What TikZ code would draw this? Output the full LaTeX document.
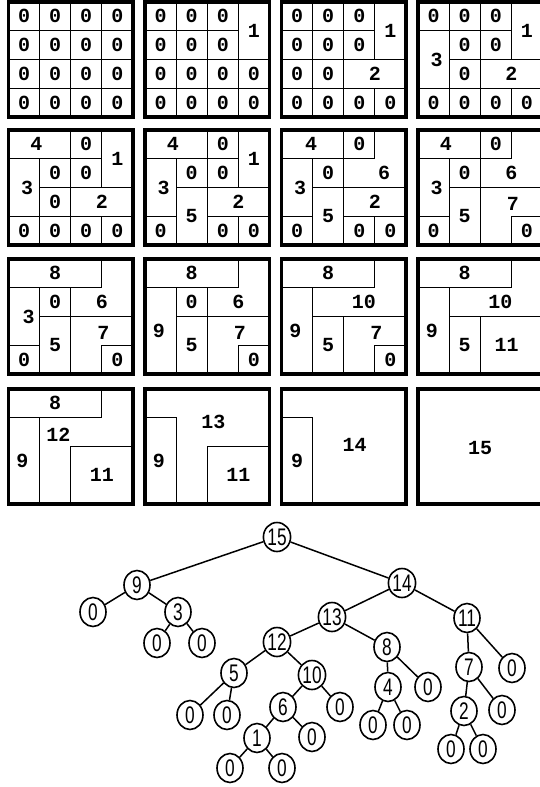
\documentclass[tikz,border=0pt]{standalone}
\usepackage{fontspec}
\usetikzlibrary{shapes.geometric}
\newfontfamily\gridfont{Liberation Mono}
\newfontfamily\treefont{Liberation Sans}[FakeStretch=0.72]
\tikzset{
  panelpos/.style 2 args={shift={(#1,#2)}, x=31.1pt, y=-28.8pt},
  frame/.style={line width=3.6pt},
  cellline/.style={line width=1.2pt},
  lbl/.style={font=\gridfont\bfseries\fontsize{20}{20}\selectfont, inner sep=0pt},
  knot/.style={ellipse, draw, line width=1.6pt, minimum width=26pt, minimum height=29pt,
    inner sep=0pt, font=\treefont\fontsize{24}{24}\selectfont},
  edge/.style={line width=1.5pt}
}
\begin{document}
\begin{tikzpicture}[x=1pt,y=-1pt]
    \useasboundingbox (0,0) rectangle (540,787);

    % panel 1
    \begin{scope}[panelpos={8.5}{2}]
        \foreach \c in {0,...,3} \foreach \r in {0,...,3} \draw[cellline] (\c,\r) rectangle node[lbl] (a\c\r) {0} ++(1,1);
        \draw[frame] (0,0) rectangle (4,4);
    \end{scope}

    % panel 2
    \begin{scope}[panelpos={145}{2}]
        \foreach \c/\r in {0/0,1/0,2/0,0/1,1/1,2/1,0/2,1/2,2/2,3/2,0/3,1/3,2/3,3/3} \draw[cellline] (\c,\r) rectangle node[lbl] (b\c\r) {0} ++(1,1);
        \draw[cellline] (3,0) rectangle node[lbl] (b1) {1} (4,2);
        \draw[frame] (0,0) rectangle (4,4);
    \end{scope}

    % panel 3
    \begin{scope}[panelpos={281.5}{2}]
        \foreach \c/\r in {0/0,1/0,2/0,0/1,1/1,2/1,0/2,1/2,0/3,1/3,2/3,3/3} \draw[cellline] (\c,\r) rectangle node[lbl] (c\c\r) {0} ++(1,1);
        \draw[cellline] (3,0) rectangle node[lbl] (c1) {1} (4,2);
        \draw[cellline] (2,2) rectangle node[lbl] (c2) {2} (4,3);
        \draw[frame] (0,0) rectangle (4,4);
    \end{scope}

    % panel 4
    \begin{scope}[panelpos={418}{2}]
        \foreach \c/\r in {0/0,1/0,2/0,1/1,2/1,1/2,0/3,1/3,2/3,3/3} \draw[cellline] (\c,\r) rectangle node[lbl] (d\c\r) {0} ++(1,1);
        \draw[cellline] (3,0) rectangle node[lbl] (d1) {1} (4,2);
        \draw[cellline] (2,2) rectangle node[lbl] (d2) {2} (4,3);
        \draw[cellline] (0,1) rectangle (1,3);
        \node[lbl] (d3) at (0.6,2) {3};
        \draw[frame] (0,0) rectangle (4,4);
    \end{scope}

    % panel 5
    \begin{scope}[panelpos={8.5}{130}]
        \foreach \c/\r in {2/0,1/1,2/1,1/2,0/3,1/3,2/3,3/3} \draw[cellline] (\c,\r) rectangle node[lbl] (e\c\r) {0} ++(1,1);
        \draw[cellline] (0,0) rectangle (2,1);
        \node[lbl] (e4) at (0.9,0.5) {4};
        \draw[cellline] (3,0) rectangle node[lbl] (e1) {1} (4,2);
        \draw[cellline] (0,1) rectangle (1,3);
        \node[lbl] (e3) at (0.6,2) {3};
        \draw[cellline] (2,2) rectangle node[lbl] (e2) {2} (4,3);
        \draw[frame] (0,0) rectangle (4,4);
    \end{scope}

    % panel 6
    \begin{scope}[panelpos={145}{130}]
        \foreach \c/\r in {2/0,1/1,2/1,0/3,2/3,3/3} \draw[cellline] (\c,\r) rectangle node[lbl] (f\c\r) {0} ++(1,1);
        \draw[cellline] (0,0) rectangle (2,1);
        \node[lbl] (f4) at (0.9,0.5) {4};
        \draw[cellline] (3,0) rectangle node[lbl] (f1) {1} (4,2);
        \draw[cellline] (0,1) rectangle (1,3);
        \node[lbl] (f3) at (0.6,2) {3};
        \draw[cellline] (1,2) rectangle node[lbl] (f5) {5} (2,4);
        \draw[cellline] (2,2) rectangle node[lbl] (f2) {2} (4,3);
        \draw[frame] (0,0) rectangle (4,4);
    \end{scope}

    % panel 7
    \begin{scope}[panelpos={281.5}{130}]
        \foreach \c/\r in {2/0,1/1,0/3,2/3,3/3} \draw[cellline] (\c,\r) rectangle node[lbl] (g\c\r) {0} ++(1,1);
        \draw[cellline] (0,0) rectangle (2,1);
        \node[lbl] (g4) at (0.95,0.5) {4};
        \draw[cellline] (3,0) -- (4,0) -- (4,2) -- (2,2) -- (2,1) -- (3,1) -- cycle;
        \node[lbl] (g6) at (3.3,1.5) {6};
        \draw[cellline] (0,1) rectangle (1,3);
        \node[lbl] (g3) at (0.6,2) {3};
        \draw[cellline] (1,2) rectangle node[lbl] (g5) {5} (2,4);
        \draw[cellline] (2,2) rectangle node[lbl] (g2) {2} (4,3);
        \draw[frame] (0,0) rectangle (4,4);
    \end{scope}

    % panel 8
    \begin{scope}[panelpos={418}{130}]
        \foreach \c/\r in {2/0,1/1,0/3,3/3} \draw[cellline] (\c,\r) rectangle node[lbl] (h\c\r) {0} ++(1,1);
        \draw[cellline] (0,0) rectangle (2,1);
        \node[lbl] (h4) at (0.9,0.5) {4};
        \draw[cellline] (3,0) -- (4,0) -- (4,2) -- (2,2) -- (2,1) -- (3,1) -- cycle;
        \node[lbl] (h6) at (3,1.5) {6};
        \draw[cellline] (0,1) rectangle (1,3);
        \node[lbl] (h3) at (0.6,2) {3};
        \draw[cellline] (1,2) rectangle node[lbl] (h5) {5} (2,4);
        \draw[cellline] (2,2) -- (4,2) -- (4,3) -- (3,3) -- (3,4) -- (2,4) -- cycle;
        \node[lbl] (h7) at (3.05,2.55) {7};
        \draw[frame] (0,0) rectangle (4,4);
    \end{scope}

    % panel 9
    \begin{scope}[panelpos={8.5}{259}]
        \foreach \c/\r in {1/1,0/3,3/3} \draw[cellline] (\c,\r) rectangle node[lbl] (i\c\r) {0} ++(1,1);
        \draw[cellline] (0,0) rectangle node[lbl] (i8) {8} (3,1);
        \draw[cellline] (3,0) -- (4,0) -- (4,2) -- (2,2) -- (2,1) -- (3,1) -- cycle;
        \node[lbl] (i6) at (3,1.5) {6};
        \draw[cellline] (0,1) rectangle (1,3);
        \node[lbl] (i3) at (0.65,2) {3};
        \draw[cellline] (1,2) rectangle node[lbl] (i5) {5} (2,4);
        \draw[cellline] (2,2) -- (4,2) -- (4,3) -- (3,3) -- (3,4) -- (2,4) -- cycle;
        \node[lbl] (i7) at (3.05,2.55) {7};
        \draw[frame] (0,0) rectangle (4,4);
    \end{scope}

    % panel 10
    \begin{scope}[panelpos={145}{259}]
        \foreach \c/\r in {1/1,3/3} \draw[cellline] (\c,\r) rectangle node[lbl] (j\c\r) {0} ++(1,1);
        \draw[cellline] (0,0) rectangle node[lbl] (j8) {8} (3,1);
        \draw[cellline] (3,0) -- (4,0) -- (4,2) -- (2,2) -- (2,1) -- (3,1) -- cycle;
        \node[lbl] (j6) at (3,1.5) {6};
        \draw[cellline] (0,1) rectangle (1,4);
        \node[lbl] (j9) at (0.45,2.5) {9};
        \draw[cellline] (1,2) rectangle node[lbl] (j5) {5} (2,4);
        \draw[cellline] (2,2) -- (4,2) -- (4,3) -- (3,3) -- (3,4) -- (2,4) -- cycle;
        \node[lbl] (j7) at (3.05,2.55) {7};
        \draw[frame] (0,0) rectangle (4,4);
    \end{scope}

    % panel 11
    \begin{scope}[panelpos={281.5}{259}]
        \draw[cellline] (3,3) rectangle node[lbl] (k33) {0} (4,4);
        \draw[cellline] (0,0) rectangle node[lbl] (k8) {8} (3,1);
        \draw[cellline] (1,1) -- (3,1) -- (3,0) -- (4,0) -- (4,2) -- (1,2) -- cycle;
        \node[lbl] (k10) at (2.65,1.5) {10};
        \draw[cellline] (0,1) rectangle (1,4);
        \node[lbl] (k9) at (0.45,2.5) {9};
        \draw[cellline] (1,2) rectangle node[lbl] (k5) {5} (2,4);
        \draw[cellline] (2,2) -- (4,2) -- (4,3) -- (3,3) -- (3,4) -- (2,4) -- cycle;
        \node[lbl] (k7) at (3.05,2.55) {7};
        \draw[frame] (0,0) rectangle (4,4);
    \end{scope}

    % panel 12
    \begin{scope}[panelpos={418}{259}]
        \draw[cellline] (0,0) rectangle node[lbl] (l8) {8} (3,1);
        \draw[cellline] (1,1) -- (3,1) -- (3,0) -- (4,0) -- (4,2) -- (1,2) -- cycle;
        \node[lbl] (l10) at (2.65,1.5) {10};
        \draw[cellline] (0,1) rectangle (1,4);
        \node[lbl] (l9) at (0.45,2.5) {9};
        \draw[cellline] (1,2) rectangle node[lbl] (l5) {5} (2,4);
        \draw[cellline] (2,2) rectangle (4,4);
        \node[lbl] (l11) at (2.85,3) {11};
        \draw[frame] (0,0) rectangle (4,4);
    \end{scope}

    % panel 13
    \begin{scope}[panelpos={8.5}{389}]
        \draw[cellline] (0,0) rectangle node[lbl] (m8) {8} (3,1);
        \draw[cellline] (1,1) -- (3,1) -- (3,0) -- (4,0) -- (4,2) -- (2,2) -- (2,4) -- (1,4) -- cycle;
        \node[lbl] (m12) at (1.6,1.6) {12};
        \draw[cellline] (0,1) rectangle (1,4);
        \node[lbl] (m9) at (0.45,2.5) {9};
        \draw[cellline] (2,2) rectangle node[lbl] (m11) {11} (4,4);
        \draw[frame] (0,0) rectangle (4,4);
    \end{scope}

    % panel 14
    \begin{scope}[panelpos={145}{389}]
        \draw[cellline] (0,0) -- (4,0) -- (4,2) -- (2,2) -- (2,4) -- (1,4) -- (1,1) -- (0,1) -- cycle;
        \node[lbl] (n13) at (2.2,1.15) {13};
        \draw[cellline] (0,1) rectangle (1,4);
        \node[lbl] (n9) at (0.45,2.5) {9};
        \draw[cellline] (2,2) rectangle node[lbl] (n11) {11} (4,4);
        \draw[frame] (0,0) rectangle (4,4);
    \end{scope}

    % panel 15
    \begin{scope}[panelpos={281.5}{389}]
        \draw[cellline] (0,1) rectangle (1,4);
        \node[lbl] (o9) at (0.5,2.5) {9};
        \node[lbl] (o14) at (2.35,1.95) {14};
        \draw[frame] (0,0) rectangle (4,4);
    \end{scope}

    % panel 16
    \begin{scope}[panelpos={418}{389}]
        \node[lbl] (p15) at (2,2.05) {15};
        \draw[frame] (0,0) rectangle (4,4);
    \end{scope}

    % tree
    \node[knot] (t15) at (277,537) {15};
    \node[knot] (t9) at (137,585) {9};
    \node[knot] (t9a) at (93,612) {0};
    \node[knot] (t3) at (178,612) {3};
    \node[knot] (t3a) at (157,643) {0};
    \node[knot] (t3b) at (202,643) {0};
    \node[knot] (t14) at (402,583) {14};
    \node[knot] (t13) at (332,617) {13};
    \node[knot] (t11) at (467,618) {11};
    \node[knot] (t12) at (277,642) {12};
    \node[knot] (t8) at (387,647) {8};
    \node[knot] (t5) at (234,673) {5};
    \node[knot] (t10) at (312,675) {10};
    \node[knot] (t5a) at (190,715) {0};
    \node[knot] (t5b) at (227,715) {0};
    \node[knot] (t6) at (283,707) {6};
    \node[knot] (t10b) at (340,707) {0};
    \node[knot] (t1) at (257,738) {1};
    \node[knot] (t6b) at (312,737) {0};
    \node[knot] (t1a) at (230,768) {0};
    \node[knot] (t1b) at (282,768) {0};
    \node[knot] (t4) at (388,687) {4};
    \node[knot] (t8b) at (428,687) {0};
    \node[knot] (t4a) at (373,725) {0};
    \node[knot] (t4b) at (407,725) {0};
    \node[knot] (t7) at (469,667) {7};
    \node[knot] (t11b) at (512,668) {0};
    \node[knot] (t2) at (464,711) {2};
    \node[knot] (t7b) at (502,710) {0};
    \node[knot] (t2a) at (451,749) {0};
    \node[knot] (t2b) at (483,749) {0};

    \foreach \p/\q in {t15/t9,t15/t14,t9/t9a,t9/t3,t3/t3a,t3/t3b,t14/t13,t14/t11,t13/t12,t13/t8,
        t12/t5,t12/t10,t5/t5a,t5/t5b,t10/t6,t10/t10b,t6/t1,t6/t6b,t1/t1a,t1/t1b,
        t8/t4,t8/t8b,t4/t4a,t4/t4b,t11/t7,t11/t11b,t7/t2,t7/t7b,t2/t2a,t2/t2b}
        \draw[edge] (\p) -- (\q);

\end{tikzpicture}
\end{document}
